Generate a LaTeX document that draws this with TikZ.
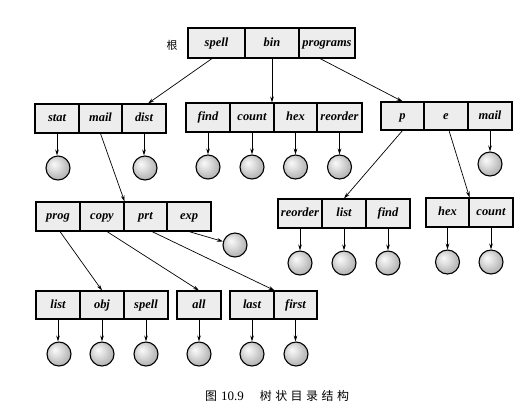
\documentclass[tikz,border=0pt]{standalone}
\usepackage{fontspec}
\setmainfont{Liberation Serif}
\newfontfamily\cjk{Noto Sans CJK SC}
\usetikzlibrary{arrows.meta,calc}
\pgfdeclareradialshading{lightball}{\pgfpoint{-9bp}{9bp}}{color(0bp)=(gray!4); color(10bp)=(gray!22); color(22bp)=(gray!48); color(30bp)=(gray!62); color(50bp)=(gray!62)}
\begin{document}
\begin{tikzpicture}[x=1bp,y=-1bp,
  cell/.style={draw=black,line width=1.1bp,fill=gray!14,minimum width=44bp,minimum height=29bp,inner sep=0pt,
    text height=8.5bp,text depth=2.5bp,
    font=\fontsize{12.5}{13}\selectfont\bfseries\itshape},
  ball/.style={circle,draw=black,line width=1.1bp,minimum size=24bp,inner sep=0pt,shading=lightball},
  link/.style={line width=0.7bp,-{Stealth[length=6bp,width=3.6bp]}}]
\useasboundingbox (0,0) rectangle (525,416);
% root
\node[cell,minimum width=57bp,minimum height=30bp] (spell) at (216.5,43) {spell};
\node[cell,minimum width=54bp,minimum height=30bp] (bin) at (272,43) {bin};
\node[cell,minimum width=56bp,minimum height=30bp] (programs) at (327,43) {programs};
\node[font=\cjk\fontsize{11}{12}\selectfont] (rootlbl) at (172,45) {根};
% row 2 left
\node[cell,minimum width=44bp] (stat) at (57,118.5) {stat};
\node[cell,minimum width=43bp] (mail) at (100.5,118.5) {mail};
\node[cell,minimum width=44bp] (dist) at (144,118.5) {dist};
\node[ball] (cstat) at (58,168) {};
\node[ball] (cdist) at (145,168) {};
% row 2 middle
\node[cell] (find) at (208,117.5) {find};
\node[cell] (count) at (252,117.5) {count};
\node[cell,minimum width=43bp] (hex) at (295.5,117.5) {hex};
\node[cell,minimum width=45bp] (reorder) at (339.5,117.5) {reorder};
\node[ball] (cfind) at (208,167) {};
\node[ball] (ccount) at (252,167) {};
\node[ball] (chex) at (295.5,167) {};
\node[ball] (creorder) at (339.5,167) {};
% row 2 right
\node[cell,minimum width=43bp,minimum height=28bp] (p) at (402.5,116) {p};
\node[cell,minimum height=28bp] (e) at (446,116) {e};
\node[cell,minimum height=28bp] (mailb) at (490,116) {mail};
\node[ball] (cmailb) at (490,164) {};
% row 3 right
\node[cell] (reorderb) at (300,213.5) {reorder};
\node[cell] (listb) at (344,213.5) {list};
\node[cell] (findb) at (388,213.5) {find};
\node[ball] (creorderb) at (300,263) {};
\node[ball] (clistb) at (344,263) {};
\node[ball] (cfindb) at (388,263) {};
\node[cell,minimum width=43bp] (hexb) at (447.5,212.5) {hex};
\node[cell] (countb) at (491,212.5) {count};
\node[ball] (chexb) at (447.5,262) {};
\node[ball] (ccountb) at (491,262) {};
% row 3 left
\node[cell] (prog) at (58,216.5) {prog};
\node[cell] (copy) at (102,216.5) {copy};
\node[cell,minimum width=43bp] (prt) at (145.5,216.5) {prt};
\node[cell] (exp) at (189,216.5) {exp};
\node[ball] (cexp) at (235,245) {};
% row 4
\node[cell,minimum height=28bp] (listc) at (58,305) {list};
\node[cell,minimum height=28bp] (obj) at (102,305) {obj};
\node[cell,minimum height=28bp] (spellc) at (146,305) {spell};
\node[cell,minimum height=28bp] (all) at (199,305) {all};
\node[cell,minimum height=28bp] (last) at (252,305) {last};
\node[cell,minimum width=43bp,minimum height=28bp] (first) at (295.5,305) {first};
\node[ball] (clistc) at (59,354) {};
\node[ball] (cobj) at (102,354) {};
\node[ball] (cspellc) at (146,354) {};
\node[ball] (call) at (199,354) {};
\node[ball] (clast) at (252,354) {};
\node[ball] (cfirst) at (296,354) {};
% caption
\node[anchor=west,font=\fontsize{12}{13}\selectfont,inner sep=0pt] (cap) at (205,396)
  {{\cjk 图}\hspace{4bp}{\fontsize{13}{13}\selectfont 10.9}\hspace{16bp}{\cjk 树\hspace{3.5bp}状\hspace{3.5bp}目\hspace{3.5bp}录\hspace{3.5bp}结\hspace{3.5bp}构}};
% tree links
\draw[link] ([xshift=-4.5bp]spell.south) -- ([xshift=4bp]dist.north);
\draw[link] (bin.south) -- (bin.south |- count.north);
\draw[link] ([xshift=-7bp]programs.south) -- (p.north);
\draw[link] (mail.south) -- (copy.north east);
\draw[link] (p.south) -- (listb.north);
\draw[link] ([xshift=3bp]e.south) -- (hexb.north east);
\draw[link] (exp.south) -- (cexp);
\draw[link] ([xshift=2bp]prog.south) -- (obj.north);
\draw[link] ([xshift=5bp]copy.south) -- (all.north);
\draw[link] ([xshift=6.5bp]prt.south) -- (last.north east);
% file links
\foreach \a/\b in {stat/cstat,dist/cdist,find/cfind,count/ccount,hex/chex,reorder/creorder,
  mailb/cmailb,reorderb/creorderb,listb/clistb,findb/cfindb,hexb/chexb,countb/ccountb,
  listc/clistc,obj/cobj,spellc/cspellc,all/call,last/clast,first/cfirst}
  \draw[link] (\a.south) -- (\a.south |- \b.north);
\end{tikzpicture}
\end{document}
